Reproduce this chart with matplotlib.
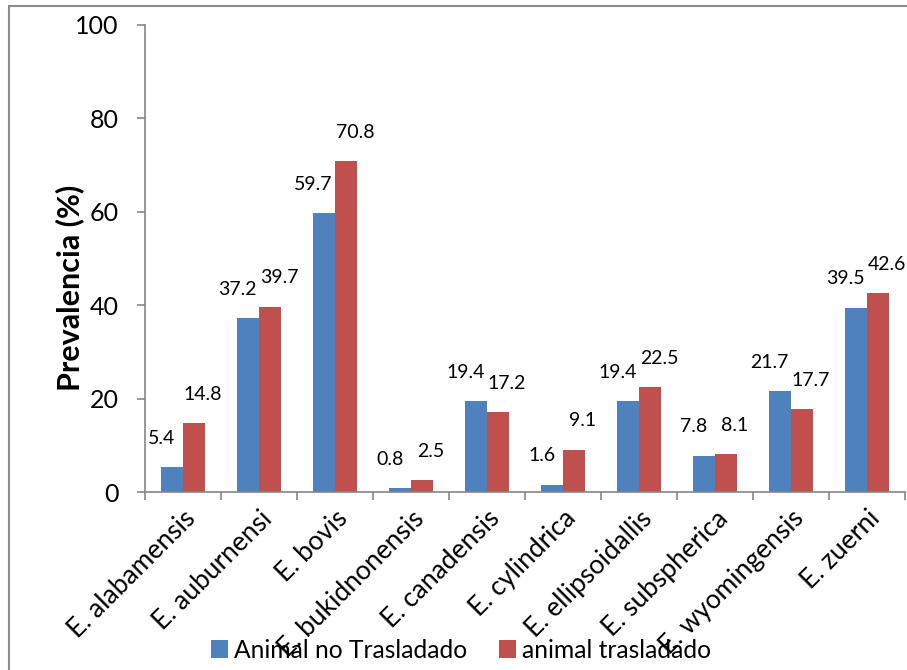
import matplotlib
matplotlib.use("Agg")
import matplotlib.pyplot as plt
from matplotlib.patches import Rectangle
import numpy as np

plt.rcParams["font.family"] = ["Lato", "DejaVu Sans"]

species = ["E. alabamensis", "E. auburnensi", "E. bovis", "E. bukidnonensis",
           "E. canadensis", "E. cylindrica", "E. ellipsoidallis", "E. subspherica",
           "E. wyomingensis", "E. zuerni"]
no_trasladado = [5.4, 37.2, 59.7, 0.8, 19.4, 1.6, 19.4, 7.8, 21.7, 39.5]
trasladado = [14.8, 39.7, 70.8, 2.5, 17.2, 9.1, 22.5, 8.1, 17.7, 42.6]
series_names = ["Animal no Trasladado", "animal trasladado"]
yticks = [0, 20, 40, 60, 80, 100]

blue = "#4F81BD"
red = "#C0504D"
axis_gray = "#868686"

fig = plt.figure(figsize=(9.07, 6.70), dpi=100)
ax = fig.add_axes([145 / 907, 178 / 670, 760 / 907, 467 / 670])

x = np.arange(len(species))
w = 0.29
b1 = ax.bar(x - w / 2, no_trasladado, w, color=blue, label=series_names[0])
b2 = ax.bar(x + w / 2, trasladado, w, color=red, label=series_names[1])

for xi, v in zip(x, no_trasladado):
    ax.annotate(f"{v:.1f}", (xi - w / 2, v), xytext=(-7.5, 14.5), textcoords="offset points",
                ha="center", va="bottom", fontsize=14, annotation_clip=False)
for xi, v in zip(x, trasladado):
    ax.annotate(f"{v:.1f}", (xi + w / 2, v), xytext=(6.5, 14.5), textcoords="offset points",
                ha="center", va="bottom", fontsize=14, annotation_clip=False)

ax.set_xlim(-0.5, len(species) - 0.5)
ax.set_ylim(0, 100)
ax.set_yticks(yticks)
ax.set_yticklabels([str(t) for t in yticks], fontsize=18)
ax.set_xticks(np.arange(len(species) + 1) - 0.5, minor=False)
ax.set_xticklabels([])
ax.set_xticks(x, minor=True)
ax.set_xticklabels(species, minor=True, rotation=45, ha="right",
                   rotation_mode="anchor", fontsize=19)
ax.tick_params(axis="x", which="minor", length=0, pad=10)
ax.tick_params(axis="x", which="major", length=6, color=axis_gray, width=1.2)
ax.tick_params(axis="y", length=6, color=axis_gray, width=1.2, pad=13)

for s in ["top", "right"]:
    ax.spines[s].set_visible(False)
for s in ["left", "bottom"]:
    ax.spines[s].set_color(axis_gray)
    ax.spines[s].set_linewidth(1.2)

fig.text(70 / 907, 1 - 288 / 670, "Prevalencia (%)", rotation=90, ha="center",
         va="center", fontsize=22, fontweight="bold")

fig.legend(handles=[b1, b2], labels=series_names, loc="center",
           bbox_to_anchor=(461 / 907, 1 - 650 / 670), ncol=2, frameon=False,
           fontsize=17.7, handlelength=0.7, handleheight=0.7, handletextpad=0.25,
           columnspacing=1.3)

# chart-area frame
fig.patches.append(Rectangle((9 / 907, -0.1), 2.0, 1.1 - 6 / 670, transform=fig.transFigure,
                             fill=False, edgecolor="#8c8c8c", linewidth=1.5))

fig.savefig("out.png", dpi=100)
